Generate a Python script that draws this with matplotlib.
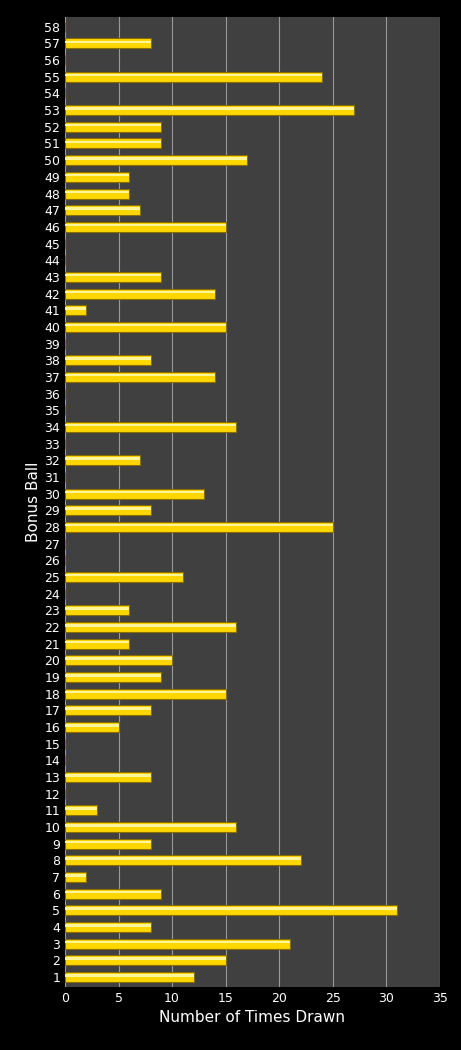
import numpy as np
import matplotlib.pyplot as plt

balls = list(range(1, 59))
counts = {1: 12, 2: 15, 3: 21, 4: 8, 5: 31, 6: 9, 7: 2, 8: 22, 9: 8, 10: 16,
          11: 3, 13: 8, 16: 5, 17: 8, 18: 15, 19: 9, 20: 10, 21: 6, 22: 16,
          23: 6, 25: 11, 28: 25, 29: 8, 30: 13, 32: 7, 34: 16, 37: 14, 38: 8,
          40: 15, 41: 2, 42: 14, 43: 9, 46: 15, 47: 7, 48: 6, 49: 6, 50: 17,
          51: 9, 52: 9, 53: 27, 55: 24, 57: 8}
values = [counts.get(b, 0) for b in balls]

fig = plt.figure(figsize=(4.61, 10.5), dpi=100, facecolor='black')
ax = fig.add_axes([0.141, 0.06, 0.813, 0.924])
ax.set_facecolor('#404040')

ax.barh(balls, values, height=0.6, color='#ffd700', edgecolor='#8a6d00',
        linewidth=0.8, zorder=3)
# highlight strip to hint at the glossy look
ax.barh(np.array(balls) + 0.1, values, height=0.15, color='#fff59a',
        linewidth=0, zorder=4)

ax.set_xlim(0, 35)
ax.set_ylim(0.4, 58.6)
ax.set_xticks(range(0, 36, 5))
ax.set_yticks(balls)
ax.tick_params(colors='white', labelsize=9, length=0)
ax.grid(axis='x', color='#9a9a9a', linewidth=0.8, zorder=0)
for s in ax.spines.values():
    s.set_visible(False)

ax.set_xlabel('Number of Times Drawn', color='white', fontsize=11)
ax.set_ylabel('Bonus Ball', color='white', fontsize=11, labelpad=2)

fig.savefig('out.png', facecolor='black')
